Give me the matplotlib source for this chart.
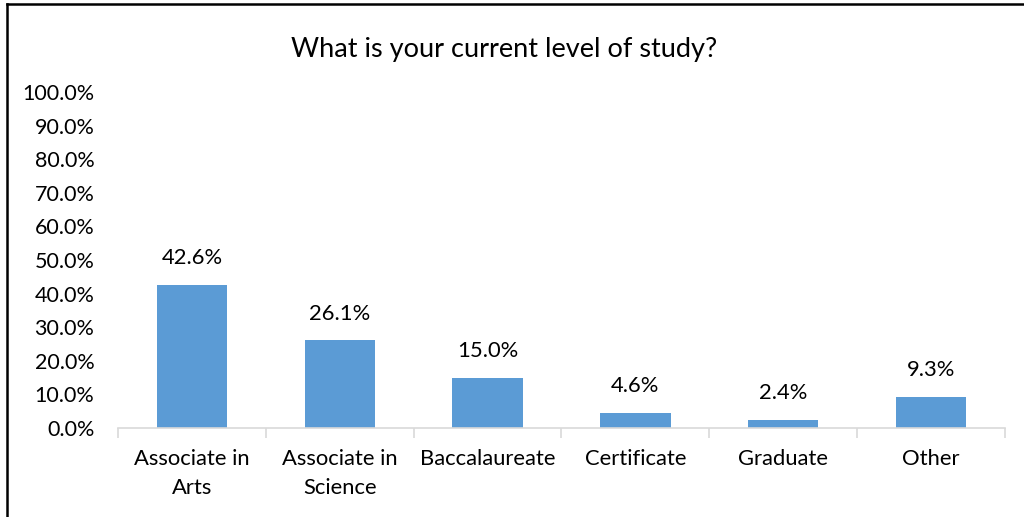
import matplotlib
matplotlib.use("Agg")
import matplotlib.pyplot as plt
from matplotlib.lines import Line2D

categories = ["Associate in\nArts", "Associate in\nScience", "Baccalaureate", "Certificate", "Graduate", "Other"]
values = [42.6, 26.1, 15.0, 4.6, 2.4, 9.3]
yticks = [0, 10, 20, 30, 40, 50, 60, 70, 80, 90, 100]
title = "What is your current level of study?"

plt.rcParams['font.family'] = ['Lato', 'DejaVu Sans']

W, H = 1024, 517
fig = plt.figure(figsize=(W / 100, H / 100), dpi=100)
ax = fig.add_axes([118 / W, 1 - 428 / H, (1005 - 118) / W, (428 - 92) / H])

x = list(range(len(categories)))
ax.bar(x, values, width=0.475, color="#5b9bd5", zorder=2)
ax.set_xlim(-0.5, len(categories) - 0.5)
ax.set_ylim(0, 100)

for xi, v in zip(x, values):
    ax.annotate(f"{v:.1f}%", (xi, v), xytext=(0, 12), textcoords="offset points",
                ha="center", va="bottom", fontsize=15.8, color="#000000")

ax.set_yticks(yticks)
ax.set_yticklabels([f"{t:.1f}%" for t in yticks], fontsize=15.5)
ax.tick_params(axis="y", length=0, pad=17)

ax.set_xticks(x)
ax.set_xticklabels(categories, fontsize=15.8, linespacing=1.58)
ax.tick_params(axis="x", length=0, pad=15)
# category boundary ticks
ax.set_xticks([i - 0.5 for i in range(len(categories) + 1)], minor=True)
ax.tick_params(axis="x", which="minor", length=7, width=1.2, color="#d9d9d9")

for s in ["top", "right", "left"]:
    ax.spines[s].set_visible(False)
ax.spines["bottom"].set_color("#d9d9d9")
ax.spines["bottom"].set_linewidth(1.2)

fig.text(504 / W, 1 - 50 / H, title, ha="center", va="center", fontsize=19.5)

# outer border (left and top)
fig.add_artist(Line2D([6.5 / W, 6.5 / W], [0, 1 - 3.5 / H], color="black", lw=1.8, transform=fig.transFigure))
fig.add_artist(Line2D([6.5 / W, 1], [1 - 3.5 / H, 1 - 3.5 / H], color="black", lw=1.8, transform=fig.transFigure))

fig.savefig("out.png", dpi=100)
